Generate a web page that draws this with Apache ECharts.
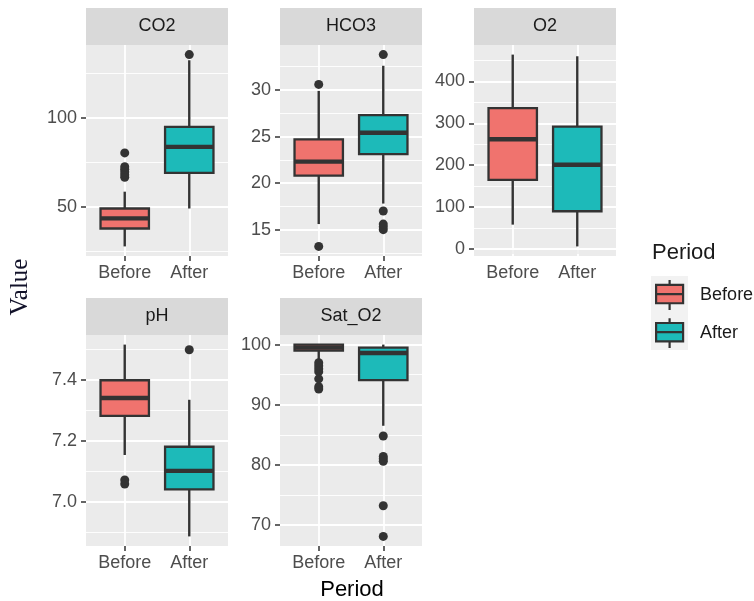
<!DOCTYPE html>
<html><head><meta charset="utf-8">
<script src="https://cdn.jsdelivr.net/npm/echarts@6/dist/echarts.min.js"></script>
<style>html,body{margin:0;padding:0;background:#fff}#c{width:754px;height:601px}</style>
</head><body><div id="c"></div>
<script>
// ---------- data ----------
const categories = ['Before', 'After'];
const panelNames = ['CO2', 'HCO3', 'O2', 'pH', 'Sat_O2'];

// [min whisker, Q1, median, Q3, max whisker]
const co2Before = [27.5, 37.6, 43.3, 48.9, 58.4];
const co2After  = [48.9, 69.0, 83.7, 95.0, 132.6];
const co2BeforeOut = [66.5, 68.0, 69.5, 71.0, 72.5, 80.3];
const co2AfterOut  = [135.8];

const hco3Before = [15.6, 20.8, 22.3, 24.7, 29.9];
const hco3After  = [17.8, 23.1, 25.4, 27.3, 32.6];
const hco3BeforeOut = [13.2, 30.6];
const hco3AfterOut  = [15.0, 15.3, 15.6, 17.0, 33.8];

const o2Before = [58, 165, 262, 336, 464];
const o2After  = [6, 90, 201, 292, 460];
const o2BeforeOut = [];
const o2AfterOut  = [];

const phBefore = [7.153, 7.281, 7.340, 7.398, 7.515];
const phAfter  = [6.886, 7.040, 7.101, 7.180, 7.334];
const phBeforeOut = [7.058, 7.071];
const phAfterOut  = [7.498];

const satBefore = [97.6, 99.0, 99.5, 100, 100];
const satAfter  = [86.5, 94.1, 98.6, 99.5, 100];
const satBeforeOut = [92.6, 93.0, 94.3, 95.5, 96.0, 96.5, 97.0];
const satAfterOut  = [68.1, 73.2, 80.6, 81.0, 81.4, 84.8];

// tick labels (major) and minor grid values
const co2Ticks = [50, 100];            const co2Minor = [25, 75, 125];
const hco3Ticks = [15, 20, 25, 30];    const hco3Minor = [12.5, 17.5, 22.5, 27.5, 32.5];
const o2Ticks = [0, 100, 200, 300, 400]; const o2Minor = [50, 150, 250, 350, 450];
const phTicks = [7.0, 7.2, 7.4];       const phMinor = [6.9, 7.1, 7.3, 7.5];
const satTicks = [70, 80, 90, 100];    const satMinor = [75, 85, 95];

// ---------- assembly ----------
const panels = [
  {before: co2Before, after: co2After, bOut: co2BeforeOut, aOut: co2AfterOut, ticks: co2Ticks, minor: co2Minor, dec: 0},
  {before: hco3Before, after: hco3After, bOut: hco3BeforeOut, aOut: hco3AfterOut, ticks: hco3Ticks, minor: hco3Minor, dec: 0},
  {before: o2Before, after: o2After, bOut: o2BeforeOut, aOut: o2AfterOut, ticks: o2Ticks, minor: o2Minor, dec: 0},
  {before: phBefore, after: phAfter, bOut: phBeforeOut, aOut: phAfterOut, ticks: phTicks, minor: phMinor, dec: 1},
  {before: satBefore, after: satAfter, bOut: satBeforeOut, aOut: satAfterOut, ticks: satTicks, minor: satMinor, dec: 0}
];

const FONT = '"Liberation Sans", Arial, Helvetica, sans-serif';
const colBefore = '#F0736E';
const colAfter = '#1DBAB9';
const lineCol = '#333333';
const layout = [[86, 45], [280, 45], [474, 45], [86, 335], [280, 335]];
const PW = 142, PH = 211, STRIP = 37;

function renderBox(params, api) {
  const x = api.value(0);
  const lo = api.coord([x, api.value(1)]);
  const q1 = api.coord([x, api.value(2)]);
  const md = api.coord([x, api.value(3)]);
  const q3 = api.coord([x, api.value(4)]);
  const hi = api.coord([x, api.value(5)]);
  const hw = api.size([0.75, 0])[0] / 2;
  const fill = api.visual('color');
  return {
    type: 'group',
    children: [
      {type: 'line', shape: {x1: lo[0], y1: lo[1], x2: q1[0], y2: q1[1]}, style: {stroke: lineCol, lineWidth: 2.4}},
      {type: 'line', shape: {x1: q3[0], y1: q3[1], x2: hi[0], y2: hi[1]}, style: {stroke: lineCol, lineWidth: 2.4}},
      {type: 'rect', shape: {x: q3[0] - hw, y: q3[1], width: 2 * hw, height: q1[1] - q3[1]}, style: {fill: fill, stroke: lineCol, lineWidth: 2.3}},
      {type: 'line', shape: {x1: md[0] - hw, y1: md[1], x2: md[0] + hw, y2: md[1]}, style: {stroke: lineCol, lineWidth: 4.4}}
    ]
  };
}

const grid = [], xAxis = [], yAxis = [], series = [], graphic = [];

panels.forEach((p, i) => {
  const [left, top] = layout[i];
  grid.push({left: left, top: top, width: PW, height: PH, show: true, backgroundColor: '#EBEBEB', borderWidth: 0, containLabel: false});
  const all = p.before.concat(p.after, p.bOut, p.aOut);
  const mn = Math.min.apply(null, all), mx = Math.max.apply(null, all);
  const pad = (mx - mn) * 0.05;
  xAxis.push({
    type: 'value', gridIndex: i, min: 0.4, max: 2.6,
    splitLine: {show: false}, axisLine: {show: false},
    axisTick: {show: true, customValues: [1, 2], length: 5, lineStyle: {color: lineCol, width: 1.5}},
    axisLabel: {customValues: [1, 2], formatter: v => categories[Math.round(v) - 1], fontSize: 18, color: '#4D4D4D', fontFamily: FONT, margin: 8}
  });
  yAxis.push({
    type: 'value', gridIndex: i, min: mn - pad, max: mx + pad,
    splitLine: {show: false}, axisLine: {show: false},
    axisTick: {show: true, customValues: p.ticks, length: 5, lineStyle: {color: lineCol, width: 1.5}},
    axisLabel: {customValues: p.ticks, formatter: v => v.toFixed(p.dec), fontSize: 18, color: '#4D4D4D', fontFamily: FONT, margin: 9}
  });
  const gl = [];
  p.minor.forEach(v => gl.push({yAxis: v, lineStyle: {color: '#FFFFFF', width: 0.9, type: 'solid'}}));
  p.ticks.forEach(v => gl.push({yAxis: v, lineStyle: {color: '#FFFFFF', width: 1.8, type: 'solid'}}));
  [1, 2].forEach(v => gl.push({xAxis: v, lineStyle: {color: '#FFFFFF', width: 1.8, type: 'solid'}}));
  series.push({
    type: 'line', xAxisIndex: i, yAxisIndex: i, data: [], silent: true, z: 1,
    markLine: {silent: true, symbol: ['none', 'none'], label: {show: false}, animation: false, z: 1, emphasis: {disabled: true}, data: gl}
  });
  series.push({
    type: 'custom', name: 'Before', xAxisIndex: i, yAxisIndex: i, z: 3, silent: true,
    renderItem: renderBox, encode: {x: 0, y: [1, 2, 3, 4, 5]},
    itemStyle: {color: colBefore, borderColor: lineCol, borderWidth: 1.6},
    data: [[1].concat(p.before)]
  });
  series.push({
    type: 'custom', name: 'After', xAxisIndex: i, yAxisIndex: i, z: 3, silent: true,
    renderItem: renderBox, encode: {x: 0, y: [1, 2, 3, 4, 5]},
    itemStyle: {color: colAfter, borderColor: lineCol, borderWidth: 1.6},
    data: [[2].concat(p.after)]
  });
  series.push({
    type: 'scatter', xAxisIndex: i, yAxisIndex: i, z: 4, silent: true, symbolSize: 9,
    itemStyle: {color: lineCol, opacity: 1},
    data: p.bOut.map(v => [1, v]).concat(p.aOut.map(v => [2, v]))
  });
  graphic.push({type: 'rect', left: left, top: top - STRIP, shape: {width: PW, height: STRIP}, style: {fill: '#D9D9D9'}, silent: true});
  graphic.push({type: 'text', x: left + PW / 2, y: top - STRIP / 2, style: {text: panelNames[i], font: '18px ' + FONT, fill: '#1A1A1A', textAlign: 'center', textVerticalAlign: 'middle'}, silent: true});
});

// axis titles
graphic.push({type: 'text', x: 352, y: 590, style: {text: 'Period', font: '22px ' + FONT, fill: '#000000', textAlign: 'center', textVerticalAlign: 'middle'}, silent: true});
graphic.push({type: 'text', x: 20, y: 287, rotation: Math.PI / 2, style: {text: 'Value', font: '25px "Liberation Serif", "Times New Roman", serif', fill: '#12122A', textAlign: 'center', textVerticalAlign: 'middle'}, silent: true});
// legend title and key background
graphic.push({type: 'text', x: 652, y: 253, style: {text: 'Period', font: '22px ' + FONT, fill: '#1A1A1A', textAlign: 'left', textVerticalAlign: 'middle'}, silent: true});
graphic.push({type: 'rect', left: 651, top: 276, shape: {width: 37, height: 74}, style: {fill: '#F2F2F2'}, silent: true, z: -1});

const glyph = 'path://M0,5H28V24H0Z M14,0V5 M14,24V31 M0,14.5H28';

const option = {
  animation: false,
  backgroundColor: '#FFFFFF',
  grid: grid, xAxis: xAxis, yAxis: yAxis, series: series, graphic: graphic,
  legend: {
    orient: 'vertical', left: 655, top: 279, itemWidth: 27, itemHeight: 31, itemGap: 6,
    selectedMode: false, padding: 0,
    textStyle: {fontSize: 18, color: '#1A1A1A', fontFamily: FONT, padding: [0, 0, 0, 12]},
    data: [
      {name: 'Before', icon: glyph, itemStyle: {color: colBefore, borderColor: lineCol, borderWidth: 2.2}},
      {name: 'After', icon: glyph, itemStyle: {color: colAfter, borderColor: lineCol, borderWidth: 2.2}}
    ]
  }
};

const chart = echarts.init(document.getElementById('c'), null, {renderer: 'canvas'});
chart.setOption(option);
</script>
</body></html>
